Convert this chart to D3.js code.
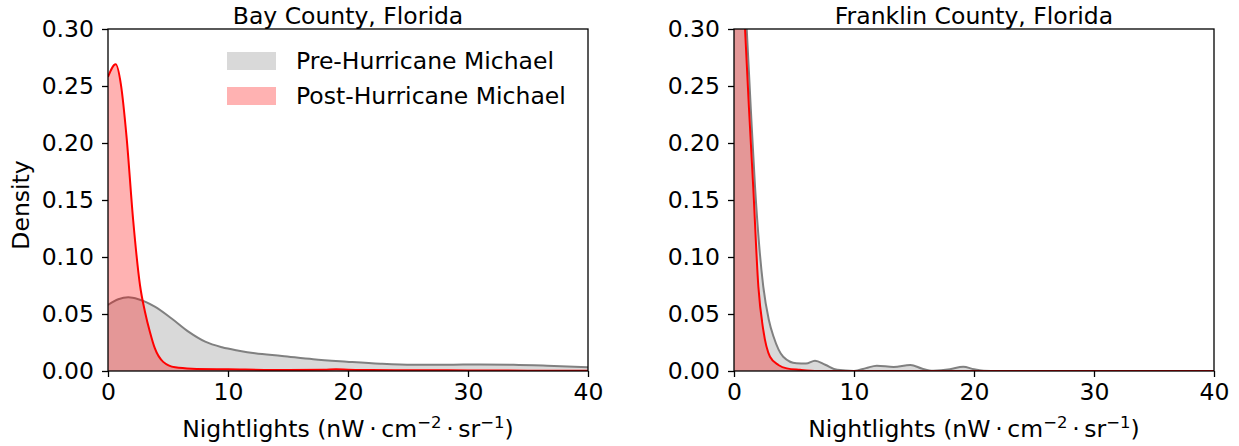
<!DOCTYPE html>
<html>
<head>
<meta charset="utf-8">
<script src="https://cdn.jsdelivr.net/npm/d3@7"></script>
<style>
  body { margin: 0; background: #fff; }
  text { font-family: "DejaVu Sans", sans-serif; fill: #000; }
</style>
</head>
<body>
<div class="container"></div>
<script>
// density curves (x in nW cm-2 sr-1, y = density)
var bayPreX = [0, 0.86, 1.7, 2.53, 3.9, 5.3, 6.7, 8.1, 9.5, 10.9, 12.25, 14.5, 17.1, 19.9, 22.7, 25.4, 28.2, 31, 33.8, 36.6, 40];
var bayPreY = [0.058, 0.0629, 0.0646, 0.0629, 0.0564, 0.046, 0.0345, 0.0257, 0.0208, 0.0178, 0.0155, 0.0132, 0.0103, 0.0082, 0.0064, 0.0055, 0.0055, 0.0058, 0.0055, 0.0046, 0.0032];
var bayPostX = [0, 0.64, 1.08, 1.55, 2.1, 2.67, 3.08, 3.5, 3.9, 4.6, 5.6, 7, 10, 15, 18, 19, 20, 22, 25, 30, 35, 40];
var bayPostY = [0.258, 0.269, 0.251, 0.205, 0.132, 0.075, 0.052, 0.034, 0.020, 0.008, 0.0032, 0.002, 0.0015, 0.0008, 0.001, 0.0015, 0.0012, 0.0008, 0.0007, 0.0005, 0.0003, 0.0003];

var frPreX = [0, 0.3, 0.6, 1.06, 1.4, 1.75, 2.1, 2.44, 2.9, 3.3, 4.1, 5.2, 6, 6.75, 7.6, 8.6, 10, 11, 11.9, 13.3, 14.7, 15.7, 16.6, 18, 19.1, 20, 20.8, 22, 40];
var frPreY = [0.33, 0.40, 0.38, 0.30, 0.23, 0.162, 0.11, 0.074, 0.045, 0.030, 0.0125, 0.0067, 0.0065, 0.009, 0.0055, 0.001, 0.0, 0.0025, 0.0047, 0.0035, 0.0053, 0.002, 0.0003, 0.0015, 0.0038, 0.0015, 0.0003, 0, 0];
var frPostX = [0, 0.3, 0.6, 0.92, 1.25, 1.6, 2.03, 2.44, 3.0, 3.7, 4.4, 5.5, 7, 40];
var frPostY = [0.34, 0.42, 0.38, 0.30, 0.23, 0.162, 0.074, 0.036, 0.0125, 0.0053, 0.0023, 0.001, 0, 0];

var xTicks = [0, 10, 20, 30, 40];
var yTicks = [0, 0.05, 0.10, 0.15, 0.20, 0.25, 0.30];
var seriesNames = ["Pre-Hurricane Michael", "Post-Hurricane Michael"];
var titles = ["Bay County, Florida", "Franklin County, Florida"];

var W = 1239, H = 446;
var fs = "23.5px";
const svg = d3.select(".container").append("svg")
  .attr("width", W)
  .attr("height", H);

var panels = [
  { left: 108, title: titles[0], pre: [bayPreX, bayPreY], post: [bayPostX, bayPostY], legend: true, ylabel: true },
  { left: 734, title: titles[1], pre: [frPreX, frPreY], post: [frPostX, frPostY], legend: false, ylabel: false }
];
var plotTop = 29, pw = 480, ph = 342;

var styles = [
  { fill: "rgba(128,128,128,0.3)", stroke: "#808080" },
  { fill: "rgba(255,0,0,0.3)", stroke: "#ff0000" }
];

panels.forEach(function (p, i) {
  var g = svg.append("g").attr("transform", "translate(" + p.left + "," + plotTop + ")");

  var x = d3.scaleLinear().domain([0, 40]).range([0, pw]);
  var y = d3.scaleLinear().domain([0, 0.30]).range([ph, 0]);

  g.append("clipPath").attr("id", "clip" + i)
    .append("rect").attr("width", pw).attr("height", ph);

  var area = d3.area()
    .x(function (d) { return x(d[0]); })
    .y0(y(0))
    .y1(function (d) { return y(d[1]); })
    .curve(d3.curveMonotoneX);
  var line = d3.line()
    .x(function (d) { return x(d[0]); })
    .y(function (d) { return y(d[1]); })
    .curve(d3.curveMonotoneX);

  var plot = g.append("g").attr("clip-path", "url(#clip" + i + ")");
  [p.pre, p.post].forEach(function (s, k) {
    var pts = d3.zip(s[0], s[1]);
    plot.append("path").attr("d", area(pts))
      .attr("fill", styles[k].fill).attr("stroke", "none");
    plot.append("path").attr("d", line(pts))
      .attr("fill", "none").attr("stroke", styles[k].stroke)
      .attr("stroke-width", 2).attr("stroke-linejoin", "round");
  });

  // axes
  var xa = g.append("g").attr("transform", "translate(0," + ph + ")")
    .call(d3.axisBottom(x).tickValues(xTicks).tickSize(6).tickPadding(6).tickFormat(d3.format("d")));
  var ya = g.append("g")
    .call(d3.axisLeft(y).tickValues(yTicks).tickSize(6).tickPadding(8).tickFormat(d3.format(".2f")));
  [xa, ya].forEach(function (a) {
    a.select(".domain").remove();
    a.selectAll("line").attr("stroke", "#000").attr("stroke-width", 1.3);
    a.selectAll("text").style("font-size", fs).attr("fill", "#000")
      .style("font-family", "DejaVu Sans, sans-serif");
  });

  g.append("rect").attr("width", pw).attr("height", ph)
    .attr("fill", "none").attr("stroke", "#000").attr("stroke-width", 1.3);

  g.append("text").attr("x", pw / 2).attr("y", -5)
    .attr("text-anchor", "middle").style("font-size", fs).text(p.title);

  var xl = g.append("text").attr("x", pw / 2).attr("y", 408)
    .attr("text-anchor", "middle").style("font-size", fs);
  xl.append("tspan").text("Nightlights (nW\u2009\u00b7\u2009cm");
  xl.append("tspan").attr("dy", -9).style("font-size", "16.5px").text("\u22122");
  xl.append("tspan").attr("dy", 9).text("\u2009\u00b7\u2009sr");
  xl.append("tspan").attr("dy", -9).style("font-size", "16.5px").text("\u22121");
  xl.append("tspan").attr("dy", 9).text(")");

  if (p.ylabel) {
    g.append("text")
      .attr("transform", "translate(-79," + (ph / 2 + 5) + ") rotate(-90)")
      .attr("text-anchor", "middle").style("font-size", fs).text("Density");
  }

  if (p.legend) {
    var lg = g.append("g").attr("transform", "translate(119,23)");
    seriesNames.forEach(function (n, k) {
      lg.append("rect").attr("x", 0).attr("y", k * 35).attr("width", 49).attr("height", 18)
        .attr("fill", styles[k].fill);
      lg.append("text").attr("x", 69).attr("y", k * 35 + 9).attr("dy", "0.35em")
        .style("font-size", fs).text(n);
    });
  }
});
</script>
</body>
</html>
